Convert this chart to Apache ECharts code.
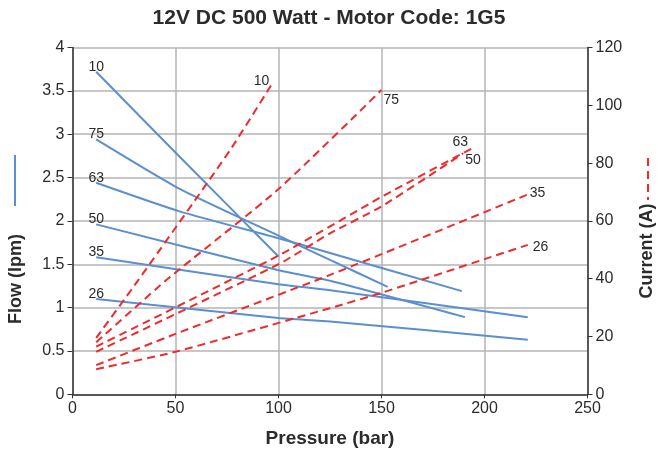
<!DOCTYPE html>
<html>
<head>
<meta charset="utf-8">
<script src="https://cdn.jsdelivr.net/npm/echarts@6/dist/echarts.min.js"></script>
<style>
html,body{margin:0;padding:0;background:#fff;}
#chart{width:658px;height:450px;}
</style>
</head>
<body>
<div id="chart"></div>
<script>
// ---- data ----
var seriesNames = ['10', '75', '63', '50', '35', '26'];
// Flow (lpm) vs pressure (bar)
var flow10 = [[11.5, 3.72], [52, 2.74], [100, 1.59]];
var flow75 = [[11.5, 2.94], [52, 2.37], [100, 1.83], [125, 1.55], [153, 1.24]];
var flow63 = [[11.5, 2.44], [52, 2.11], [100, 1.80], [125, 1.63], [189, 1.19]];
var flow50 = [[11.5, 1.96], [100, 1.43], [125, 1.31], [190.5, 0.89]];
var flow35 = [[11.5, 1.58], [100, 1.27], [125, 1.20], [221, 0.89]];
var flow26 = [[11.5, 1.10], [100, 0.88], [125, 0.84], [221, 0.63]];
// Current (A) vs pressure (bar)
var cur10 = [[11.5, 19.5], [32, 39.6], [76.5, 84.5], [97.5, 108.2]];
var cur75 = [[11.5, 18.0], [45.7, 39.6], [100, 71], [150, 105.3]];
var cur63 = [[11.5, 16.5], [100, 48], [150, 68.3], [195, 85.5]];
var cur50 = [[11.5, 14.7], [100, 45], [125, 55.7], [150, 65], [189.7, 83.4]];
var cur35 = [[11.5, 10.1], [50, 20.9], [125, 41.3], [220.5, 69.0]];
var cur26 = [[11.5, 8.7], [50, 14.7], [125, 29.8], [150, 35.1], [221, 51.7]];
var xTicks = [0, 50, 100, 150, 200, 250];

var flowData = [flow10, flow75, flow63, flow50, flow35, flow26];
var curData = [cur10, cur75, cur63, cur50, cur35, cur26];

// ---- styles ----
var BLUE = '#5b8fcf';
var RED = '#ee2a2a';
var TXT = '#2b2b2b';
var FONT = '"Liberation Sans", Arial, Helvetica, sans-serif';
var curLabelStyle = {
  '10': {position: 'left', distance: 4, offset: [0, 0]},
  '75': {position: 'right', distance: 2, offset: [0, 10]},
  '63': {position: 'left', distance: 6, offset: [0, -5]},
  '50': {position: 'right', distance: 2, offset: [0, 7]},
  '35': {position: 'right', distance: 3, offset: [0, -2]},
  '26': {position: 'right', distance: 5, offset: [0, 2]}
};

var series = [];
seriesNames.forEach(function (nm, i) {
  var fd = flowData[i].map(function (p, j) {
    var item = {value: p};
    if (j === 0) item.label = {show: true, position: 'top', distance: 0, offset: [0, 2], formatter: nm,
      color: TXT, fontSize: 14, fontFamily: FONT};
    return item;
  });
  series.push({
    name: 'Flow ' + nm, type: 'line', yAxisIndex: 0, data: fd, smooth: 0.2,
    symbol: 'circle', symbolSize: 0.1, showSymbol: true,
    lineStyle: {color: BLUE, width: 2}, itemStyle: {color: BLUE},
    silent: true, animation: false, z: 3
  });
  var cd = curData[i].map(function (p, j) {
    var item = {value: p};
    if (j === curData[i].length - 1) {
      var s = curLabelStyle[nm];
      item.label = {show: true, position: s.position, distance: s.distance, offset: s.offset,
        formatter: nm, color: TXT, fontSize: 14, fontFamily: FONT};
    }
    return item;
  });
  series.push({
    name: 'Current ' + nm, type: 'line', yAxisIndex: 1, data: cd, smooth: 0.2,
    symbol: 'circle', symbolSize: 0.1, showSymbol: true,
    lineStyle: {color: RED, width: 2, type: [8, 5]}, itemStyle: {color: RED},
    silent: true, animation: false, z: 4
  });
});

var chart = echarts.init(document.getElementById('chart'), null, {renderer: 'canvas'});
chart.setOption({
  animation: false,
  backgroundColor: '#fff',
  title: {
    text: '12V DC 500 Watt - Motor Code: 1G5',
    left: 'center', top: 3,
    textStyle: {fontFamily: FONT, fontWeight: 'bold', fontSize: 21, color: TXT}
  },
  grid: {left: 72.5, right: 70.5, top: 47.5, bottom: 55.7, containLabel: false,
    outerBoundsMode: 'none'},
  xAxis: {
    type: 'value', min: 0, max: 250, interval: 50,
    name: 'Pressure (bar)', nameLocation: 'middle', nameGap: 35,
    nameTextStyle: {fontFamily: FONT, fontWeight: 'bold', fontSize: 19, color: TXT},
    axisLine: {show: true, lineStyle: {color: '#333', width: 1.5}},
    axisTick: {show: true, length: 4, inside: false, lineStyle: {color: '#333'}},
    axisLabel: {fontFamily: FONT, fontSize: 16, color: TXT, margin: 6,
      formatter: function (v) { return xTicks.indexOf(v) >= 0 ? String(v) : ''; }},
    splitLine: {show: true, lineStyle: {color: '#b5b5b5', width: 1.5}}
  },
  yAxis: [{
    type: 'value', min: 0, max: 4, interval: 0.5, position: 'left',
    axisLine: {show: true, lineStyle: {color: '#333', width: 1.5}},
    axisTick: {show: true, length: 5, lineStyle: {color: '#333'}},
    axisLabel: {fontFamily: FONT, fontSize: 16, color: TXT, margin: 8},
    splitLine: {show: true, lineStyle: {color: '#b5b5b5', width: 1.5}}
  }, {
    type: 'value', min: 0, max: 120, interval: 20, position: 'right',
    axisLine: {show: true, lineStyle: {color: '#333', width: 1.5}},
    axisTick: {show: true, length: 5, lineStyle: {color: '#333'}},
    axisLabel: {fontFamily: FONT, fontSize: 16, color: TXT, margin: 8},
    splitLine: {show: false}
  }],
  graphic: [
    {type: 'group', silent: true, children: [
      {type: 'text', x: 16, y: 279, rotation: Math.PI / 2,
        style: {text: 'Flow (lpm)', fill: TXT, font: 'bold 18px ' + FONT,
          textAlign: 'center', textVerticalAlign: 'middle'}},
      {type: 'line', shape: {x1: 15, y1: 155, x2: 15, y2: 206},
        style: {stroke: BLUE, lineWidth: 2}},
      {type: 'text', x: 647, y: 251, rotation: Math.PI / 2,
        style: {text: 'Current (A)', fill: TXT, font: 'bold 18px ' + FONT,
          textAlign: 'center', textVerticalAlign: 'middle'}},
      {type: 'line', shape: {x1: 648, y1: 158, x2: 648, y2: 200},
        style: {stroke: RED, lineWidth: 2, lineDash: [8, 5]}}
    ]}
  ],
  series: series
});
</script>
</body>
</html>
